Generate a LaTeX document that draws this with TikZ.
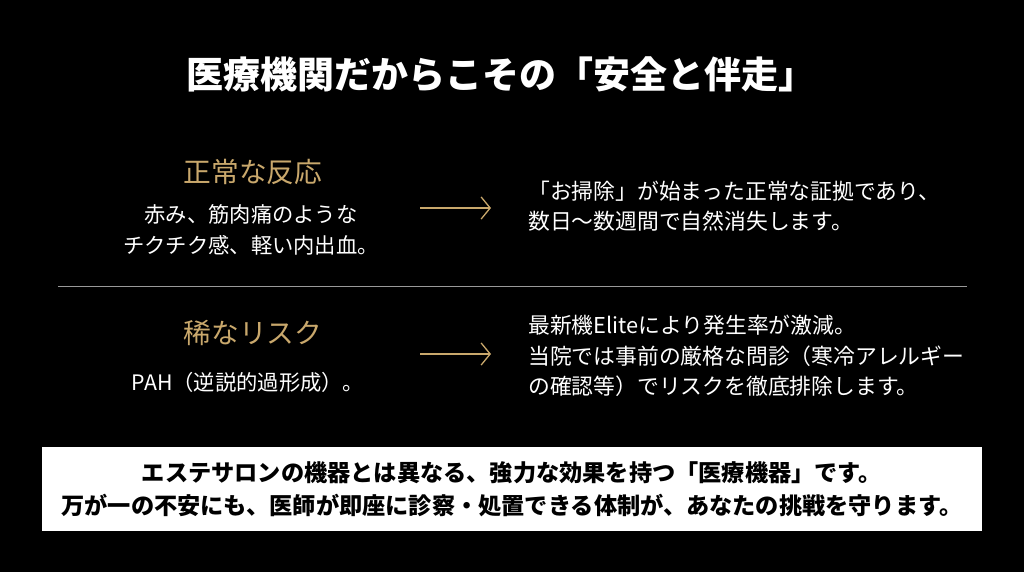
\documentclass[tikz,border=0pt]{standalone}
\usepackage{fontspec}
\setmainfont{Noto Sans CJK JP}
\usetikzlibrary{arrows.meta}
\definecolor{gold}{HTML}{C9A86C}
\begin{document}
\begin{tikzpicture}[x=1pt,y=-1pt,
  body/.style={text=white,font=\fontsize{21.3}{31}\selectfont,inner sep=0},
  rbody/.style={text=white,font=\fontsize{21.8}{30.5}\selectfont,inner sep=0},
  head/.style={text=gold,font=\fontsize{27.7}{30}\selectfont,inner sep=0},
  arr/.style={draw=gold,line width=1.3pt,-{Straight Barb[length=9pt,width=22pt,line width=1.3pt]}}]
\fill[black] (0,0) rectangle (1024,572);
\useasboundingbox (0,0) rectangle (1024,572);
\node[text=white,font=\fontsize{37}{40}\selectfont\bfseries,inner sep=0] (title) at (501,74) {医療機関だからこその「安全と伴走」};
\node[head] (h1) at (253,172) {正常な反応};
\node[body,align=center] (b1) at (251,230) {赤み、筋肉痛のような\\チクチク感、軽い内出血。};
\coordinate (a1s) at (420,208); \coordinate (a1e) at (491,208);
\draw[arr] (a1s) -- (a1e);
\node[rbody,align=left,anchor=west] (r1) at (528,206) {「お掃除」が始まった正常な証拠であり、\\数日〜数週間で自然消失します。};
\coordinate (l1) at (58,286); \coordinate (l2) at (967,286);
\draw[gray!80,line width=0.8pt] (l1) -- (l2);
\node[head] (h2) at (253,333) {稀なリスク};
\node[body] (b2) at (248,382) {PAH（逆説的過形成）。};
\coordinate (a2s) at (420,354); \coordinate (a2e) at (491,354);
\draw[arr] (a2s) -- (a2e);
\node[rbody,align=left,anchor=west] (r2) at (528,356) {最新機Eliteにより発生率が激減。\\当院では事前の厳格な問診（寒冷アレルギー\\の確認等）でリスクを徹底排除します。};
\node[fill=white,minimum width=940pt,minimum height=84pt,inner sep=0] (box) at (512,489) {};
\node[text=black,font=\fontsize{23.2}{33}\selectfont\bfseries,align=center,inner sep=0] (bt) at (box.center) {エステサロンの機器とは異なる、強力な効果を持つ「医療機器」です。\\万が一の不安にも、医師が即座に診察・処置できる体制が、あなたの挑戦を守ります。};
\end{tikzpicture}
\end{document}
